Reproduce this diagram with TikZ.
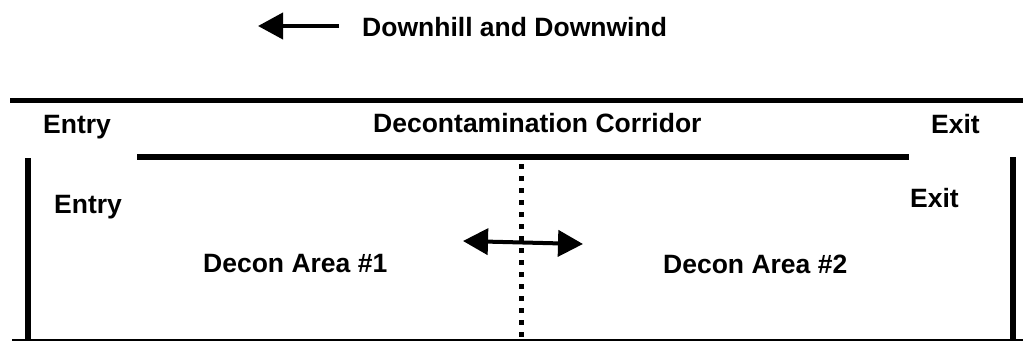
\documentclass[tikz,border=0pt]{standalone}
\usepackage{fontspec}
\setmainfont{Liberation Sans}
\usetikzlibrary{arrows.meta}
\begin{document}
\begin{tikzpicture}[x=1pt,y=-1pt,
  lbl/.style={anchor=base west,inner sep=0pt,font=\fontsize{26.5}{30}\selectfont\bfseries},
  wall/.style={line width=6pt},
  thinwall/.style={line width=1.5pt},
  divider/.style={line width=5pt,dash pattern=on 5pt off 7pt},
  bigtip/.style={line width=4pt,-{Triangle[length=25pt,width=26pt]}},
  twotip/.style={line width=4pt,{Triangle[length=25pt,width=26pt]}-{Triangle[length=25pt,width=26pt]}}]
\useasboundingbox (0,0) rectangle (1023,341);
% coordinates
\coordinate (wa) at (339,26);
\coordinate (wb) at (258,26);
\coordinate (tl) at (10,100);
\coordinate (tr) at (1023,100);
\coordinate (cl) at (137,157);
\coordinate (cr) at (909,157);
\coordinate (lt) at (28,158);
\coordinate (lb) at (28,340);
\coordinate (rt) at (1013,157);
\coordinate (rb) at (1013,340);
\coordinate (bl) at (12,340);
\coordinate (br) at (1023,340);
\coordinate (dt) at (521,164);
\coordinate (db) at (521,341);
\coordinate (aa) at (463,241);
\coordinate (ab) at (583,244);
% lines
\draw[bigtip] (wa) -- (wb);
\draw[line width=5pt] (tl) -- (tr);
\draw[wall] (cl) -- (cr);
\draw[wall] (lt) -- (lb);
\draw[wall] (rt) -- (rb);
\draw[thinwall] (bl) -- (br);
\draw[divider] (dt) -- (db);
\draw[twotip] (aa) -- (ab);
% labels
\node[lbl] (dw) at (362,36) {Downhill and Downwind};
\node[lbl] (en1) at (43,133) {Entry};
\node[lbl] (dc) at (373,132) {Decontamination Corridor};
\node[lbl] (ex1) at (931,133) {Exit};
\node[lbl] (en2) at (54,213) {Entry};
\node[lbl] (ex2) at (910,207) {Exit};
\node[lbl] (a1) at (203,272) {Decon Area \#1};
\node[lbl] (a2) at (663,273) {Decon Area \#2};
\end{tikzpicture}
\end{document}
